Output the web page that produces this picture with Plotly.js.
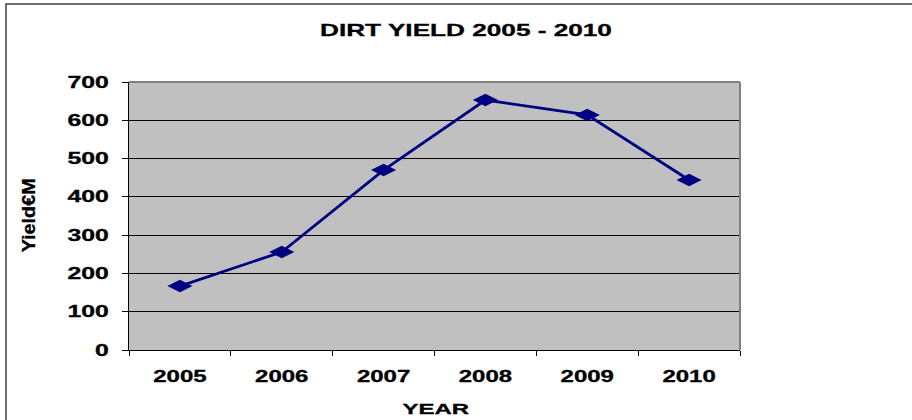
<!DOCTYPE html>
<html><head><meta charset="utf-8">
<script src="https://cdn.plot.ly/plotly-3.0.1.min.js"></script>
<style>body{margin:0;background:#fff}#c{width:912px;height:420px}</style>
</head><body><div id="c"></div>
<script>
const years = ['2005','2006','2007','2008','2009','2010'];
const yieldVals = [167, 256, 470, 653, 614, 444];
const yTicks = [0,100,200,300,400,500,600,700];

const trace = {
  x: years, y: yieldVals, type: 'scatter', mode: 'lines+markers',
  line: {color: '#000080', width: 2.8},
  marker: {symbol: 'diamond-wide', size: 18, color: '#000080'},
  hoverinfo: 'none'
};
const fontFam = '"Liberation Sans", Arial, sans-serif';
const layout = {
  width: 912, height: 420,
  margin: {l: 129, r: 172, t: 82, b: 70},
  paper_bgcolor: '#ffffff', plot_bgcolor: '#c0c0c0',
  showlegend: false,
  title: {text: '<b>DIRT YIELD 2005 - 2010</b>', x: 466/912, xref: 'container', xanchor: 'center',
          y: (420-30)/420, yref: 'container', yanchor: 'middle',
          font: {family: fontFam, size: 17, color: '#000'}},
  xaxis: {type: 'category', range: [-0.5, 5.5], tickson: 'boundaries', ticks: 'outside', ticklen: 5,
          tickcolor: '#000', showline: true, linecolor: '#000', linewidth: 1, mirror: false,
          showgrid: false, zeroline: false, ticklabelstandoff: 12,
          tickfont: {family: fontFam, size: 16, color: '#000', weight: 'bold'}},
  yaxis: {range: [0, 700], tickvals: yTicks, ticktext: yTicks.map(String), ticks: 'outside', ticklen: 6,
          tickcolor: '#000', showline: true, linecolor: '#000', linewidth: 1,
          showgrid: true, gridcolor: '#000', gridwidth: 1, zeroline: false, ticklabelstandoff: 10,
          tickfont: {family: fontFam, size: 16, color: '#000', weight: 'bold'}},
  annotations: [
    {text: '<b>YEAR</b>', xref: 'paper', yref: 'paper', x: (436-129)/611, y: (350-408)/268,
     xanchor: 'center', yanchor: 'middle', showarrow: false,
     font: {family: fontFam, size: 15, color: '#000'}},
    {text: '<b>Yield€M</b>', xref: 'paper', yref: 'paper', x: (29-129)/611, y: (350-215)/268,
     xanchor: 'center', yanchor: 'middle', showarrow: false,
     textangle: -90, font: {family: fontFam, size: 18, color: '#000'}}
  ],
  shapes: [
    {type: 'line', xref: 'paper', yref: 'paper', x0: 0, x1: 1, y0: 1, y1: 1, line: {color: '#808080', width: 2}},
    {type: 'line', xref: 'paper', yref: 'paper', x0: 1, x1: 1, y0: 0, y1: 1, line: {color: '#808080', width: 2}},
    {type: 'rect', xref: 'paper', yref: 'paper', x0: (6-129)/611, x1: (930-129)/611, y0: (350-440)/268, y1: (350-4)/268,
     line: {color: '#404040', width: 1.5}}
  ]
};
function stretch(el, s) {
  const x = parseFloat(el.getAttribute('x')) || 0;
  const t = el.getAttribute('transform') || '';
  el.setAttribute('transform', t + ' translate(' + x + ',0) scale(' + s + ',1) translate(' + (-x) + ',0)');
  el.style.stroke = '#000';
  el.style.strokeWidth = '0.3px';
}
Plotly.newPlot('c', [trace], layout, {staticPlot: true}).then(gd => {
  gd.querySelectorAll('.xtick text').forEach(el => stretch(el, 1.5));
  gd.querySelectorAll('.ytick text').forEach(el => stretch(el, 1.55));
  gd.querySelectorAll('.gtitle').forEach(el => stretch(el, 1.54));
  const ann = gd.querySelectorAll('.annotation-text');
  if (ann[0]) stretch(ann[0], 1.6);
  if (ann[1]) stretch(ann[1], 1.1);
});
</script></body></html>
